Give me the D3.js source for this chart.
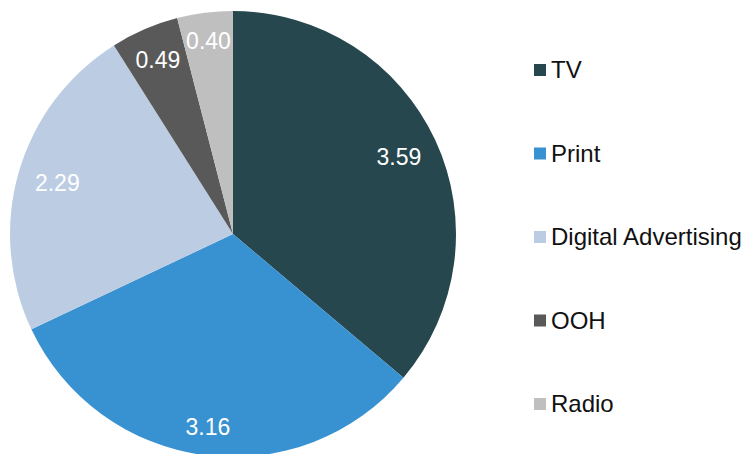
<!DOCTYPE html>
<html>
<head>
<meta charset="utf-8">
<script src="https://cdn.jsdelivr.net/npm/d3@7"></script>
<style>
    body { margin: 0; background: #fff; }
    text { font-family: "Liberation Sans", Arial, sans-serif; }
</style>
</head>
<body>
<div id="chart"></div>
<script>
// Données
var categories = ["TV", "Print", "Digital Advertising", "OOH", "Radio"];
var valeurs = [3.59, 3.16, 2.29, 0.49, 0.40];
var couleurs = ["#27474f", "#3891d0", "#bccde3", "#595959", "#bfbfbf"];

var width = 745,
    height = 454;

var data = categories.map(function (c, i) {
    return { label: c, value: valeurs[i] };
});

var svg = d3.select("#chart").append("svg")
    .attr("width", width)
    .attr("height", height);

// centre et rayon du camembert
var cx = 233, cy = 234, rayon = 223;

var colors = d3.scaleOrdinal()
    .domain(categories)
    .range(couleurs);

var pie = d3.pie()
    .sort(null)
    .value(function (d) { return d.value; });

var arc = d3.arc()
    .innerRadius(0)
    .outerRadius(rayon);

var pieGroup = svg.append("g")
    .attr("transform", "translate(" + cx + "," + cy + ")");

var arcs = pieGroup.selectAll(".arc")
    .data(pie(data))
    .enter()
    .append("g")
    .attr("class", "arc");

arcs.append("path")
    .attr("d", arc)
    .attr("fill", function (d) { return colors(d.data.label); });

// étiquettes placées à l'intérieur, près du bord
var fontSize = 24;
arcs.append("text")
    .attr("text-anchor", "middle")
    .attr("dy", "0.35em")
    .style("font-size", (fontSize - 1) + "px")
    .attr("fill", "#fff")
    .text(function (d) { return d3.format(".2f")(d.data.value); })
    .attr("transform", function (d) {
        var bb = this.getBBox();
        var a = (d.startAngle + d.endAngle) / 2;
        var s = Math.sin(a), c = Math.cos(a);
        var cible = rayon - 16;
        var lo = 0, hi = rayon;
        for (var k = 0; k < 30; k++) {
            var t = (lo + hi) / 2;
            var px = Math.abs(t * s) + bb.width / 2,
                py = Math.abs(t * c) + bb.height / 2 - 4;
            if (Math.sqrt(px * px + py * py) > cible) hi = t; else lo = t;
        }
        return "translate(" + (lo * s) + "," + (-lo * c) + ")";
    });

// légende
var legendY = d3.scalePoint()
    .domain(categories)
    .range([70, 404]);

var legend = svg.selectAll(".legend")
    .data(data)
    .enter()
    .append("g")
    .attr("class", "legend")
    .attr("transform", function (d) { return "translate(534," + legendY(d.label) + ")"; });

legend.append("rect")
    .attr("x", 0)
    .attr("y", -6)
    .attr("width", 12)
    .attr("height", 12)
    .style("fill", function (d) { return colors(d.label); });

legend.append("text")
    .attr("x", 17)
    .attr("y", 0)
    .attr("dy", "0.35em")
    .style("font-size", fontSize + "px")
    .attr("fill", "#111")
    .text(function (d) { return d.label; });
</script>
</body>
</html>
